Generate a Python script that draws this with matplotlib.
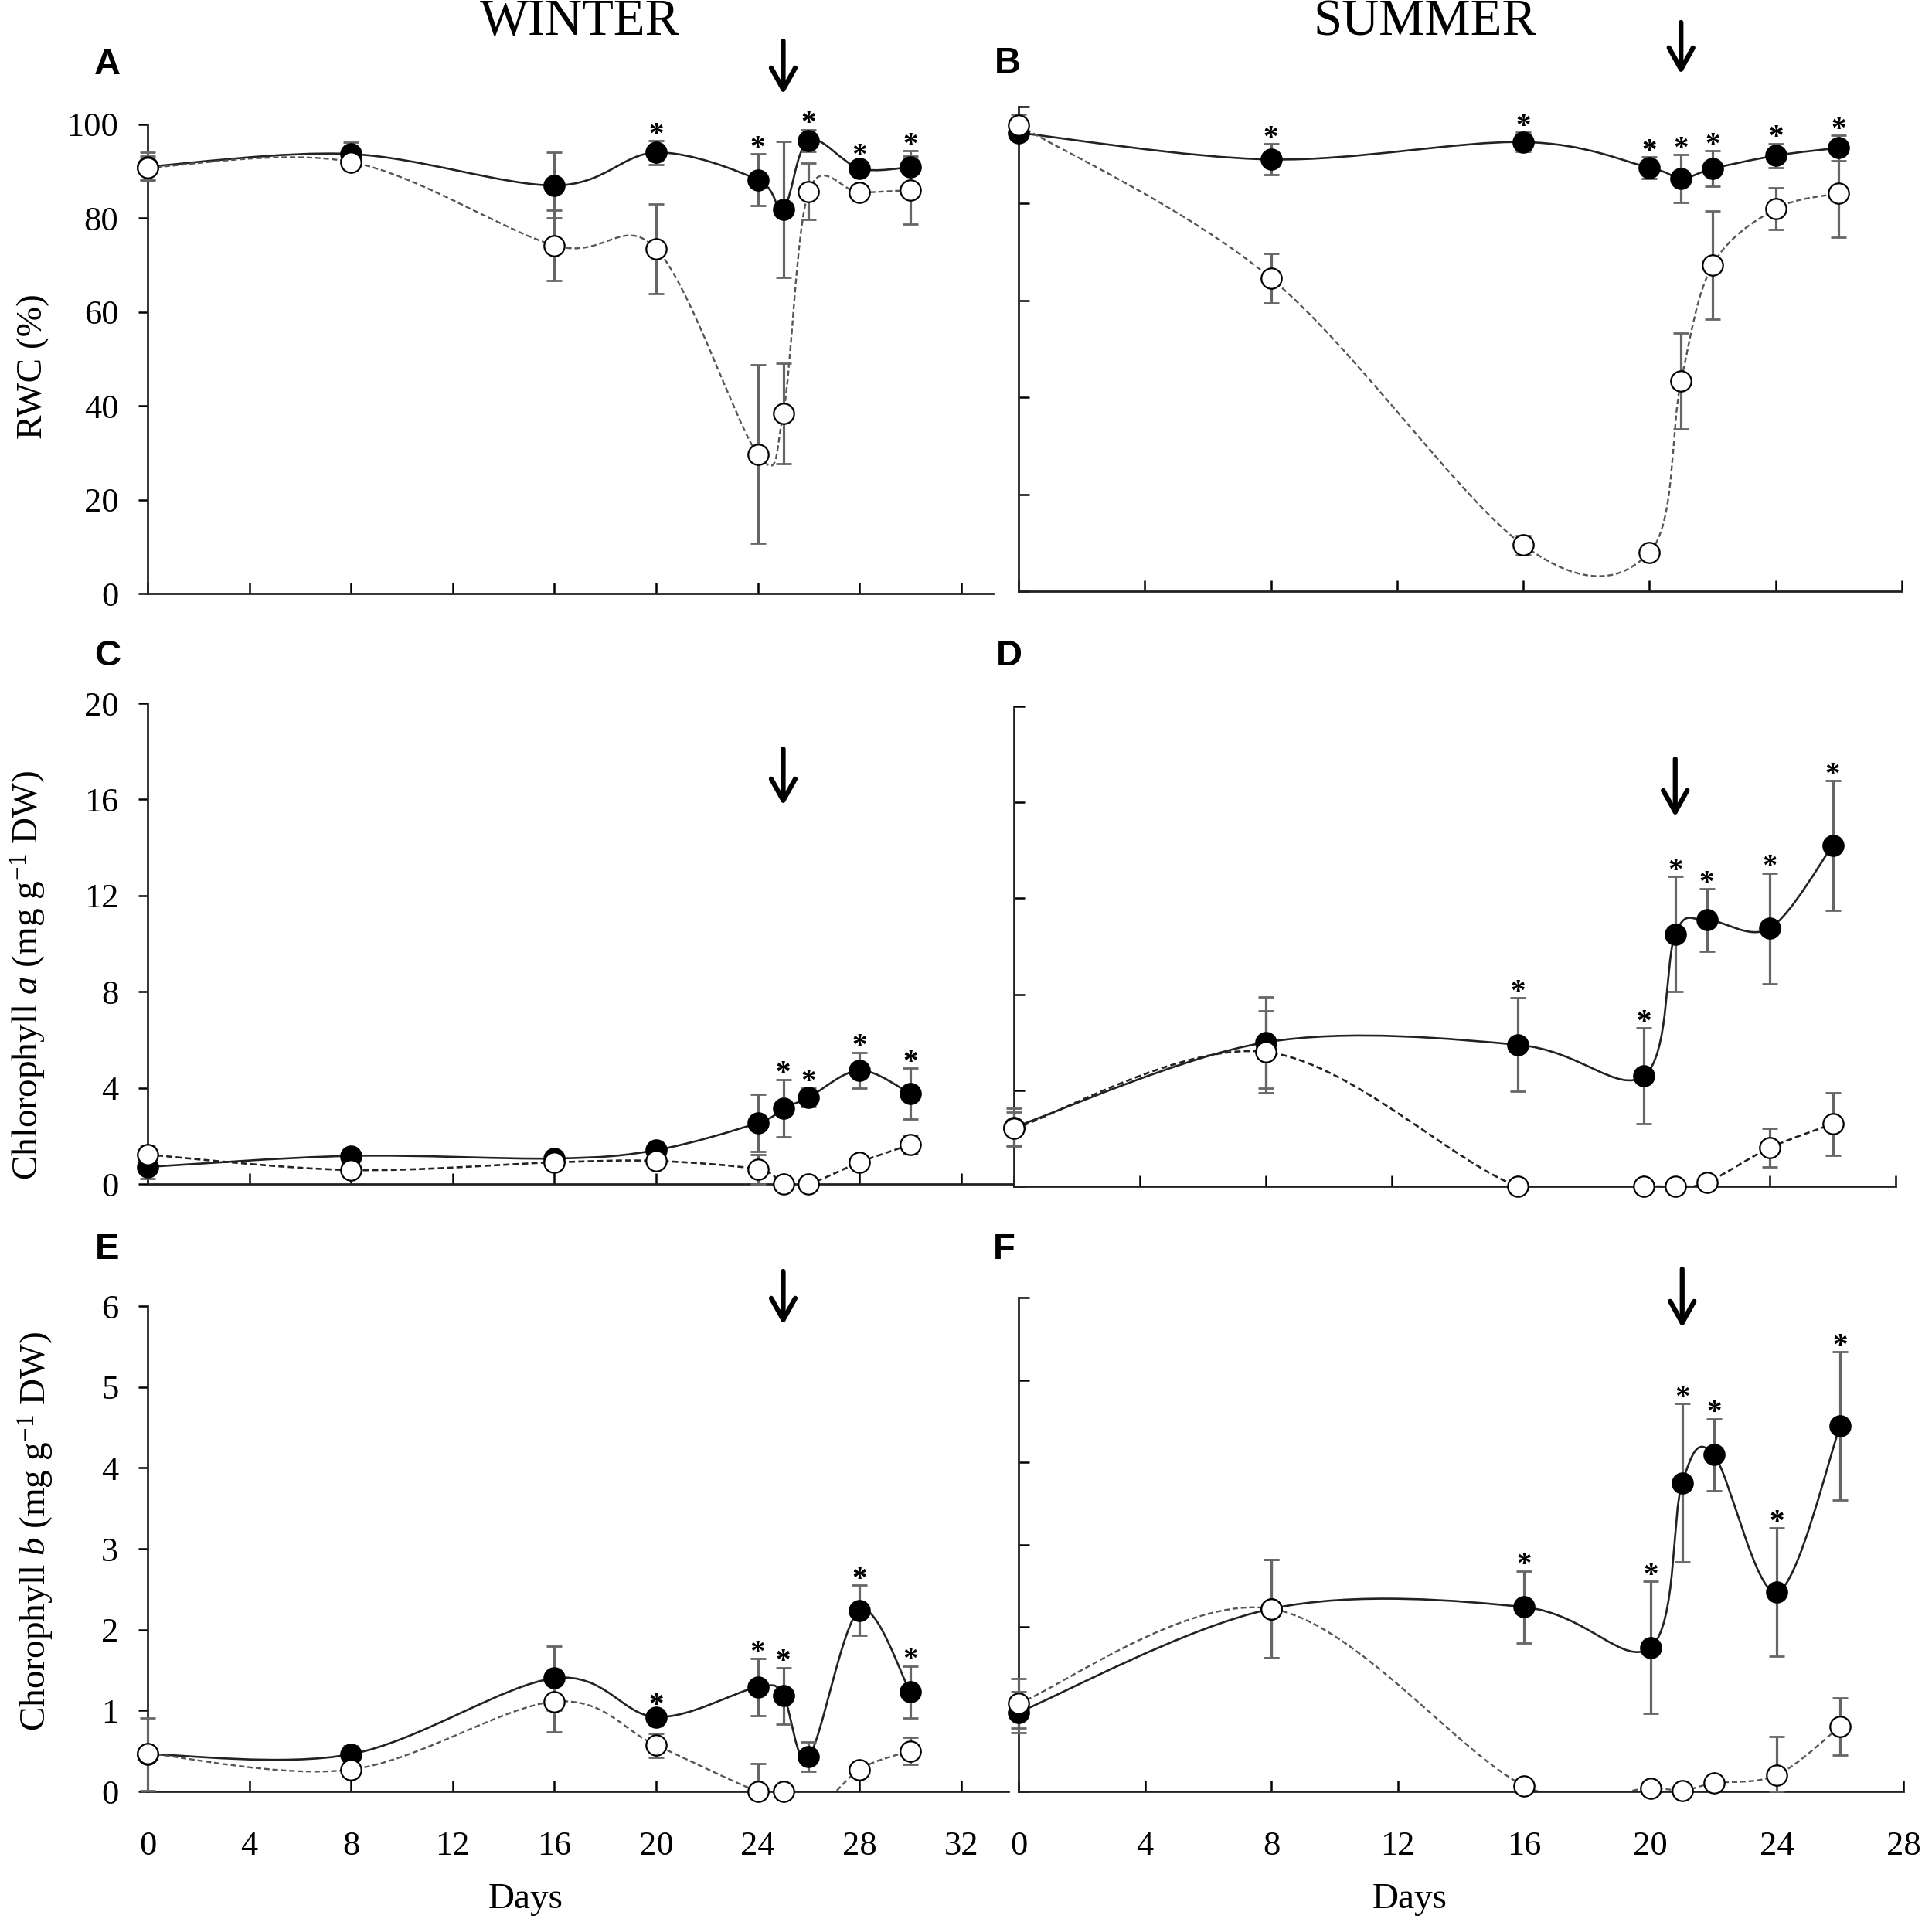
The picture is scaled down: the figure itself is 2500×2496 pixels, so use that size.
import numpy as np
import matplotlib
matplotlib.use("Agg")
import matplotlib.pyplot as plt
from matplotlib.path import Path
from matplotlib.patches import PathPatch

plt.rcParams['font.family'] = 'Liberation Serif'
plt.rcParams['mathtext.fontset'] = 'custom'
plt.rcParams['mathtext.rm'] = 'Liberation Serif'
plt.rcParams['mathtext.it'] = 'Liberation Serif:italic'

W, H = 2500, 2496

# ---- data ----
days_w = [0, 8, 16, 20, 24, 25, 26, 28, 30]
days_s = [0, 8, 16, 20, 21, 22, 24, 26]

# A: RWC winter
rwc_w_ctrl = [91.0, 93.7, 87.0, 94.0, 88.2, 81.9, 96.6, 90.6, 90.9]
rwc_w_ctrl_err = [3.0, 2.5, 7.0, 2.5, 5.5, 14.5, 2.3, 1.5, 3.5]
rwc_w_str = [90.8, 92.0, 74.2, 73.5, 29.7, 38.4, 85.7, 85.5, 86.0]
rwc_w_str_err = [2.5, 1.0, 7.5, 9.6, 19.0, 10.7, 6.0, 1.5, 7.3]
stars_a = [20, 24, 26, 28, 30]

# B: RWC summer
rwc_s_ctrl = [94.6, 89.1, 92.7, 87.4, 85.2, 87.2, 89.9, 91.5]
rwc_s_ctrl_err = [1.0, 3.2, 2.0, 2.2, 4.9, 3.7, 2.5, 2.6]
rwc_s_str = [96.2, 64.6, 9.5, 8.0, 43.4, 67.3, 78.9, 82.1]
rwc_s_str_err = [2.2, 5.1, 2.0, 0.5, 9.9, 11.2, 4.3, 9.1]
stars_b = [8, 16, 20, 21, 22, 24, 26]

# C: chlorophyll a winter
chla_w_ctrl = [0.71, 1.17, 1.06, 1.41, 2.54, 3.15, 3.6, 4.73, 3.76]
chla_w_ctrl_err = [0.5, 0.2, 0.3, 0.2, 1.2, 1.2, 0.4, 0.75, 1.05]
chla_w_str = [1.22, 0.58, 0.9, 0.96, 0.61, 0.0, 0.0, 0.9, 1.64]
chla_w_str_err = [0.35, 0.1, 0.3, 0.2, 0.6, 0.0, 0.0, 0.1, 0.4]
stars_c = [25, 26, 28, 30]

# D: chlorophyll a summer
chla_s_ctrl = [2.46, 6.0, 5.9, 4.6, 10.5, 11.1, 10.75, 14.2]
chla_s_ctrl_err = [0.8, 1.9, 1.95, 2.0, 2.4, 1.3, 2.3, 2.7]
chla_s_str = [2.4, 5.6, 0.0, 0.0, 0.0, 0.16, 1.6, 2.6]
chla_s_str_err = [0.7, 1.7, 0.0, 0.0, 0.0, 0.0, 0.8, 1.3]
stars_d = [16, 20, 21, 22, 24, 26]

# E: chlorophyll b winter (day 26 of stressed lies below the axis)
chlb_w_ctrl = [0.46, 0.46, 1.40, 0.92, 1.29, 1.18, 0.43, 2.24, 1.23]
chlb_w_ctrl_err = [0.45, 0.1, 0.4, 0.07, 0.35, 0.35, 0.18, 0.31, 0.32]
chlb_w_str = [0.47, 0.27, 1.11, 0.57, 0.0, 0.0, -0.3, 0.27, 0.5]
chlb_w_str_err = [0.0, 0.05, 0.37, 0.15, 0.34, 0.0, 0.0, 0.05, 0.17]
stars_e = [20, 24, 25, 28, 30]

# F: chlorophyll b summer
chlb_s_ctrl = [0.96, 2.22, 2.24, 1.75, 3.75, 4.09, 2.42, 4.44]
chlb_s_ctrl_err = [0.25, 0.6, 0.44, 0.8, 0.96, 0.44, 0.78, 0.9]
chlb_s_str = [1.07, 2.22, 0.07, 0.04, 0.01, 0.1, 0.2, 0.79]
chlb_s_str_err = [0.3, 0.6, 0.0, 0.0, 0.0, 0.0, 0.47, 0.35]
stars_f = [16, 20, 21, 22, 24, 26]

arrow_w = 25
arrow_s = 21


def smooth_path(x, y):
    # excel-like smoothed line as cubic bezier segments
    x = np.asarray(x, float)
    y = np.asarray(y, float)
    n = len(x)
    verts = [(x[0], y[0])]
    codes = [Path.MOVETO]
    for i in range(n - 1):
        i0 = max(i - 1, 0)
        i3 = min(i + 2, n - 1)
        c1 = (x[i] + (x[i + 1] - x[i0]) / 6, y[i] + (y[i + 1] - y[i0]) / 6)
        c2 = (x[i + 1] - (x[i3] - x[i]) / 6, y[i + 1] - (y[i3] - y[i]) / 6)
        verts += [c1, c2, (x[i + 1], y[i + 1])]
        codes += [Path.CURVE4] * 3
    return Path(verts, codes)


def series(ax, x, y, e, filled, dash):
    x = np.asarray(x, float)
    y = np.asarray(y, float)
    e = np.asarray(e, float)
    if filled:
        ax.add_patch(PathPatch(smooth_path(x, y), fill=False, ec='#222222',
                               lw=1.9, zorder=2))
    else:
        ax.add_patch(PathPatch(smooth_path(x, y), fill=False, ec=dash[0],
                               lw=dash[1], ls=(0, (3, 1.6)), zorder=2))
    m = y >= 0
    low = np.clip(np.minimum(e, y), 0, None)
    eb = ax.errorbar(x[m], y[m], yerr=[low[m], e[m]], fmt='none',
                     ecolor='#666666', elinewidth=2.3, capsize=7.5,
                     capthick=2.0, clip_on=False, zorder=3)
    for cap in eb[1]:
        cap.set_color('#222222')
    ax.plot(x[m], y[m], 'o', ms=19, mfc='black' if filled else 'white',
            mec='black', mew=1.6, clip_on=False, zorder=5 if not filled else 4)


def make_ax(l, r, t, b, xmax, ymax, ystep, xstep_max, left_col, bottom_row):
    ax = fig.add_axes([l / W, 1 - b / H, (r - l) / W, (b - t) / H])
    ax.set_xlim(0, xmax)
    ax.set_ylim(0, ymax)
    for s in ['top', 'right']:
        ax.spines[s].set_visible(False)
    for s in ['left', 'bottom']:
        ax.spines[s].set_linewidth(2)
        ax.spines[s].set_color('#222222')
    ax.set_xticks(np.arange(0, xstep_max + 1, 4))
    ax.set_yticks(np.arange(0, ymax + ystep / 2, ystep))
    ax.tick_params(axis='x', direction='in', length=10, width=1.8,
                   labelsize=32, pad=37, labelbottom=bottom_row)
    if left_col:
        ax.tick_params(axis='y', direction='out', length=8.6, width=1.8,
                       labelsize=32, pad=18.5)
    else:
        ax.tick_params(axis='y', direction='in', length=10, width=1.8,
                       labelleft=False)
    ax.patch.set_alpha(0)
    return ax


def stars(ax, days, x, y, e):
    for d in days:
        i = list(x).index(d)
        ax.annotate('*', xy=(d, y[i] + e[i]), xytext=(0, 5),
                    textcoords='offset points', ha='center', va='center',
                    fontsize=28, fontweight='bold', annotation_clip=False)


def arrow(ax, d, ytop, ybot):
    ax.annotate('', xy=(d, 1 - ybot / H), xytext=(d, 1 - ytop / H),
                xycoords=('data', 'figure fraction'),
                textcoords=('data', 'figure fraction'),
                arrowprops=dict(arrowstyle='->,head_length=0.5,head_width=0.28',
                                lw=4.5, color='black', shrinkA=0, shrinkB=0,
                                mutation_scale=40))


fig = plt.figure(figsize=(25, 24.96), dpi=100)

axA = make_ax(191, 1285, 161, 768, (1285 - 191) / 32.9, 100, 20, 32, True, False)
axB = make_ax(1318, 2461, 138, 765, 28, 100, 20, 28, False, False)
axC = make_ax(191, 1312, 910, 1532, (1312 - 191) / 32.9, 20, 4, 32, True, False)
axD = make_ax(1312, 2453, 914, 1535, 28, 20, 4, 28, False, False)
axE = make_ax(191, 1305, 1690, 2318, (1305 - 191) / 32.9, 6, 1, 32, True, True)
axF = make_ax(1318, 2463, 1679, 2318, 28, 6, 1, 28, False, True)

light = ('#555555', 1.7)
dark = ('#222222', 1.9)

panels = [
    (axA, days_w, rwc_w_ctrl, rwc_w_ctrl_err, rwc_w_str, rwc_w_str_err, stars_a, light),
    (axB, days_s, rwc_s_ctrl, rwc_s_ctrl_err, rwc_s_str, rwc_s_str_err, stars_b, light),
    (axC, days_w, chla_w_ctrl, chla_w_ctrl_err, chla_w_str, chla_w_str_err, stars_c, dark),
    (axD, days_s, chla_s_ctrl, chla_s_ctrl_err, chla_s_str, chla_s_str_err, stars_d, dark),
    (axE, days_w, chlb_w_ctrl, chlb_w_ctrl_err, chlb_w_str, chlb_w_str_err, stars_e, light),
    (axF, days_s, chlb_s_ctrl, chlb_s_ctrl_err, chlb_s_str, chlb_s_str_err, stars_f, light),
]
for ax, x, yc, ec, ys, es, st, dash in panels:
    series(ax, x, yc, ec, True, dash)
    series(ax, x, ys, es, False, dash)
    stars(ax, st, x, yc, ec)

arrow(axA, arrow_w, 53, 122)
arrow(axB, arrow_s, 29, 96)
arrow(axC, arrow_w, 969, 1042)
arrow(axD, arrow_s, 982, 1057)
arrow(axE, arrow_w, 1645, 1714)
arrow(axF, arrow_s, 1642, 1718)

# titles, panel letters, axis labels
fig.text(750 / W, 1 - 45 / H, 'WINTER', fontsize=48, ha='center', va='baseline')
fig.text(1844 / W, 1 - 45 / H, 'SUMMER', fontsize=48, ha='center', va='baseline')

for lab, px, py in [('A', 139, 84), ('B', 1304, 82), ('C', 139, 849),
                    ('D', 1306, 849), ('E', 139, 1617), ('F', 1299, 1617)]:
    fig.text(px / W, 1 - py / H, lab, fontsize=34, fontweight='bold',
             family='Liberation Sans', ha='center', va='center')

fig.text(43 / W, 1 - 474 / H, 'RWC (%)', fontsize=34, rotation=90,
         ha='center', va='center')
fig.text(37 / W, 1 - 1262 / H, r'Chlorophyll $\it{a}$ (mg g$^{-1}$ DW)',
         fontsize=34, rotation=90, ha='center', va='center')
fig.text(46 / W, 1 - 1982 / H, r'Chorophyll $\it{b}$ (mg g$^{-1}$ DW)',
         fontsize=34, rotation=90, ha='center', va='center')

fig.text(680 / W, 1 - 2458 / H, 'Days', fontsize=34, ha='center', va='center')
fig.text(1824 / W, 1 - 2458 / H, 'Days', fontsize=34, ha='center', va='center')

fig.savefig('out.png', dpi=100)
